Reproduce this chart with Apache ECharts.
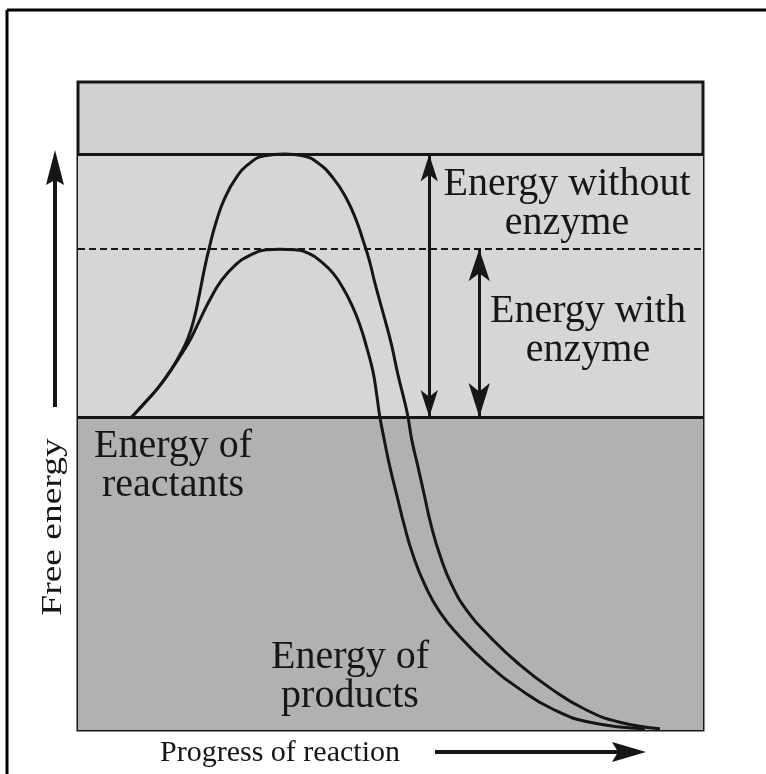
<!DOCTYPE html>
<html>
<head>
<meta charset="utf-8">
<title>Free energy of a reaction with and without enzyme</title>
<script src="https://cdn.jsdelivr.net/npm/echarts@6/dist/echarts.min.js"></script>
<style>
    html, body { margin: 0; padding: 0; background: #ffffff; }
    #chart { width: 766px; height: 774px; }
</style>
</head>
<body>
<div id="chart"></div>
<script>
// energy levels (arbitrary units, 0 = bottom of box, 100 = top)
const reactantEnergy = 48.3;
const peakWithout = 88.8;
const peakWith = 74.2;

// curve without enzyme
const progressWithout = [8.6, 10.7, 12.8, 14.7, 16.3, 17.6, 18.6, 19.4, 20.2, 21.0, 22.1, 23.5, 25.3, 27.4, 29.8, 33.1, 36.0, 38.4, 40.8, 42.9, 44.5, 45.6, 46.6, 47.5, 48.8, 50.1, 51.2, 52.2, 52.8, 53.4, 54.4, 55.4, 56.5, 57.9, 59.8, 62.4, 65.9, 70.4, 75.5, 81.1, 86.7, 93.1];
const energyWithout = [48.3, 50.5, 52.8, 55.3, 57.9, 60.5, 63.6, 67.1, 71.0, 74.4, 78.4, 82.1, 85.2, 87.4, 88.6, 88.9, 88.6, 87.5, 85.2, 82.1, 78.7, 75.6, 72.5, 69.0, 64.4, 59.7, 54.8, 50.9, 48.3, 44.8, 40.6, 36.3, 31.6, 27.0, 22.4, 18.2, 14.4, 10.3, 6.5, 3.2, 1.2, 0.2];

// curve with enzyme
const progressWith = [8.6, 10.7, 12.8, 14.7, 16.5, 18.1, 19.5, 21.1, 22.9, 25.0, 27.4, 30.1, 32.3, 34.7, 37.0, 39.0, 40.8, 42.4, 43.8, 45.1, 46.2, 47.2, 47.8, 48.3, 49.0, 49.9, 51.0, 52.2, 53.6, 55.5, 57.9, 61.1, 65.4, 70.4, 76.0, 81.9, 90.7];
const energyWith = [48.3, 50.5, 52.8, 55.3, 57.9, 60.5, 63.3, 66.4, 69.3, 71.6, 73.2, 74.1, 74.2, 74.1, 73.5, 72.2, 70.5, 68.2, 65.6, 62.5, 59.0, 55.3, 51.7, 48.3, 44.8, 40.6, 36.3, 31.6, 27.0, 22.4, 18.2, 14.4, 10.3, 6.5, 3.2, 1.2, 0.2];

// where the activation energy arrows stand
const arrowWithoutX = 56.2;
const arrowWithX = 64.2;

const ink = "#161616";
const serif = "Liberation Serif, Times New Roman, serif";

function pairs(xs, ys) {
    return xs.map((x, i) => [x, ys[i]]);
}

function arrowEnd(x, y, w, h) {
    return { coord: [x, y], symbol: "arrow", symbolSize: [w, h] };
}

function label(text, x, y, size) {
    return {
        type: "text",
        x: x,
        y: y,
        z: 100,
        style: {
            text: text,
            fill: ink,
            font: size + "px " + serif,
            align: "center",
            verticalAlign: "middle",
            lineHeight: 39
        }
    };
}

const chart = echarts.init(document.getElementById("chart"));

chart.setOption({
    animation: false,
    grid: {
        left: 78,
        top: 82,
        right: 63,
        bottom: 44,
        show: true,
        backgroundColor: "#d0d0d0",
        borderColor: ink,
        borderWidth: 3
    },
    xAxis: {
        type: "value",
        min: 0,
        max: 100,
        axisLine: { show: false },
        axisTick: { show: false },
        axisLabel: { show: false },
        splitLine: { show: false }
    },
    yAxis: {
        type: "value",
        min: 0,
        max: 100,
        axisLine: { show: false },
        axisTick: { show: false },
        axisLabel: { show: false },
        splitLine: { show: false }
    },
    series: [
        {
            name: "with enzyme",
            type: "line",
            data: pairs(progressWith, energyWith),
            smooth: 0.5,
            showSymbol: false,
            lineStyle: { color: ink, width: 3 },
            z: 5,
            markArea: {
                silent: true,
                data: [
                    [{ yAxis: reactantEnergy, itemStyle: { color: "#d6d6d6" } }, { yAxis: peakWithout }],
                    [{ yAxis: 0, itemStyle: { color: "#b1b1b1" } }, { yAxis: reactantEnergy }]
                ]
            },
            markLine: {
                silent: true,
                symbol: ["none", "none"],
                label: { show: false },
                lineStyle: { color: ink, width: 3, type: "solid" },
                data: [
                    { yAxis: peakWithout },
                    { yAxis: reactantEnergy },
                    { yAxis: peakWith, lineStyle: { type: [7, 4], width: 2 } },
                    [arrowEnd(arrowWithoutX, peakWithout, 13, 27), arrowEnd(arrowWithoutX, reactantEnergy, 13, 27)],
                    [arrowEnd(arrowWithX, peakWith, 16, 32), arrowEnd(arrowWithX, reactantEnergy, 16, 34)]
                ]
            }
        },
        {
            name: "without enzyme",
            type: "line",
            data: pairs(progressWithout, energyWithout),
            smooth: 0.5,
            showSymbol: false,
            lineStyle: { color: ink, width: 3 },
            z: 5
        }
    ],
    graphic: [
        // outer frame (top and left edges only)
        { type: "line", shape: { x1: 7, y1: 10, x2: 766, y2: 10 }, style: { stroke: "#000", lineWidth: 3 } },
        { type: "line", shape: { x1: 7, y1: 10, x2: 7, y2: 774 }, style: { stroke: "#000", lineWidth: 3 } },
        // free energy arrow
        { type: "line", shape: { x1: 55, y1: 407, x2: 55, y2: 175 }, style: { stroke: ink, lineWidth: 4 } },
        { type: "polygon", shape: { points: [[55, 150], [64, 185], [55, 180], [46, 185]] }, style: { fill: ink } },
        // progress arrow
        { type: "line", shape: { x1: 435, y1: 752, x2: 625, y2: 752 }, style: { stroke: ink, lineWidth: 4 } },
        { type: "polygon", shape: { points: [[646, 752], [612, 742], [618, 752], [612, 762]] }, style: { fill: ink } },
        {
            type: "text",
            x: 53,
            y: 527,
            rotation: Math.PI / 2,
            scaleX: 1.25,
            z: 100,
            style: { text: "Free energy", fill: ink, font: "30px " + serif, align: "center", verticalAlign: "middle" }
        },
        {
            type: "text",
            x: 280,
            y: 753,
            z: 100,
            style: { text: "Progress of reaction", fill: ink, font: "30px " + serif, align: "center", verticalAlign: "middle" }
        },
        label("Energy without\nenzyme", 567, 204, 40),
        label("Energy with\nenzyme", 588, 331, 40),
        label("Energy of\nreactants", 173, 466, 40),
        label("Energy of\nproducts", 350, 677, 40)
    ]
});
</script>
</body>
</html>
